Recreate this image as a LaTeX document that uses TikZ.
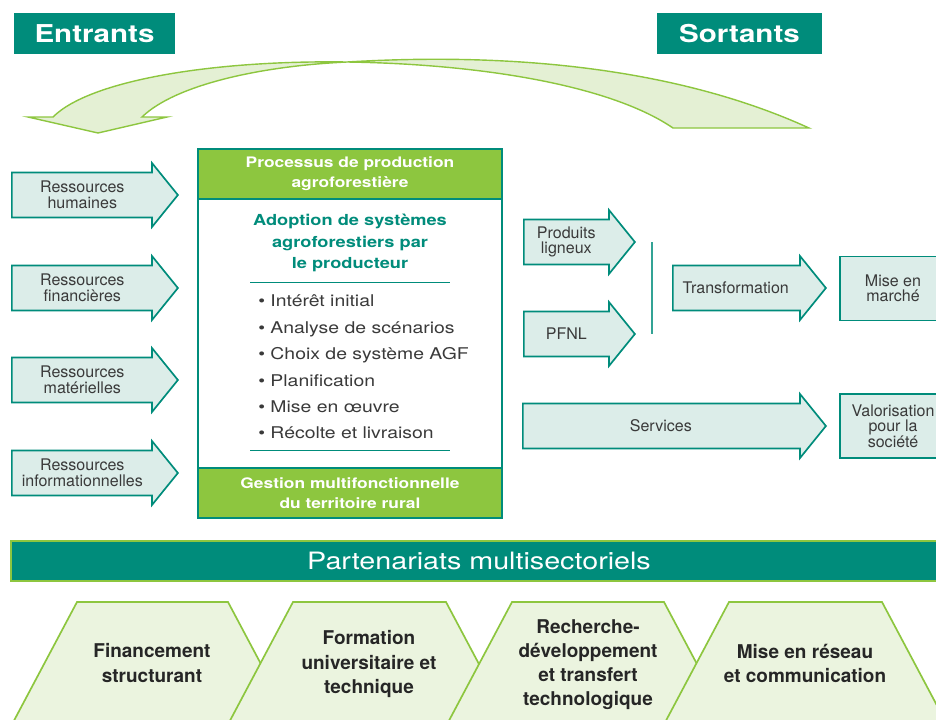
\documentclass[tikz,border=0pt]{standalone}
\usepackage{fontspec}
\setmainfont{TeX Gyre Heros}
\newfontfamily\widefont[FakeStretch=1.2]{TeX Gyre Heros}
\usetikzlibrary{positioning, shapes.arrows}

\definecolor{agfteal}{HTML}{008C7B}
\definecolor{agfgreen}{HTML}{8DC63F}
\definecolor{palegreen}{HTML}{E4F0D4}
\definecolor{trapgreen}{HTML}{EBF4DF}
\definecolor{paleteal}{HTML}{DCEDE9}
\definecolor{textgray}{HTML}{3A3A3A}

\begin{document}
\begin{tikzpicture}[
    x=0.025cm, y=-0.025cm,
    flow/.style={single arrow, draw=agfteal, fill=paleteal, line width=1.2pt,
        minimum width=1.55cm, inner sep=0.54cm, single arrow head extend=0.24cm,
        single arrow tip angle=102, anchor=tail},
    flowtext/.style={inner sep=0pt, align=center, text=textgray,
        font=\fontsize{11.4}{11}\selectfont},
    outbox/.style={rectangle, draw=agfteal, fill=paleteal, line width=1.2pt,
        minimum width=2.65cm, minimum height=1.6cm, inner sep=0pt, align=center,
        text=textgray, font=\fontsize{11.4}{11}\selectfont},
    tag/.style={rectangle, fill=agfteal, text=white, minimum height=1.025cm,
        font=\widefont\bfseries\fontsize{17.5}{20}\selectfont},
    band/.style={rectangle, draw=agfteal, fill=agfgreen, line width=1.2pt,
        minimum width=7.6cm, minimum height=1.25cm, align=center, text=white,
        font=\widefont\bfseries\fontsize{10.3}{14.2}\selectfont},
    item/.style={anchor=base west, inner sep=0pt, text=textgray,
        font=\widefont\fontsize{11.5}{14}\selectfont},
    partner/.style={draw=agfgreen, fill=trapgreen, line width=1.2pt},
    partext/.style={align=center, text=black!85,
        font=\bfseries\fontsize{13.5}{17.1}\selectfont}
]
\useasboundingbox (0,0) rectangle (936,719);
\clip (0,0) rectangle (936,719);

% titles and return arrow
\node[tag, minimum width=4.025cm] (entrants) at (94.5,33.5) {Entrants};
\node[tag, minimum width=4.125cm] (sortants) at (739.5,33.5) {Sortants};

\draw[draw=agfgreen, fill=palegreen, line width=1pt]
    (673,128) .. controls (610,85) and (480,64) .. (347,62)
    .. controls (214,60) and (90,80) .. (53,117)
    -- (28,117) -- (98,133) -- (167,117) -- (142,117)
    .. controls (175,85) and (260,66) .. (347,62)
    .. controls (480,54) and (660,60) .. (809,128) -- cycle;

% resources
\node[flow, minimum height=4.15cm] (humaines) at (11,195) {};
\node[flowtext, right=0pt of humaines.tail, minimum width=3.55cm] {Ressources\\humaines};
\node[flow, minimum height=4.15cm] (financieres) at (11,288) {};
\node[flowtext, right=0pt of financieres.tail, minimum width=3.55cm] {Ressources\\financières};
\node[flow, minimum height=4.15cm] (materielles) at (11,380) {};
\node[flowtext, right=0pt of materielles.tail, minimum width=3.55cm] {Ressources\\matérielles};
\node[flow, minimum height=4.15cm] (informationnelles) at (11,473) {};
\node[flowtext, right=0pt of informationnelles.tail, minimum width=3.55cm] {Ressources\\informationnelles};

% production process
\node[draw=agfteal, line width=1.2pt, fill=white, minimum width=7.6cm,
    minimum height=9.225cm] (procbox) at (350,333.5) {};
\node[band, anchor=north] (processus) at (procbox.north) {Processus de production\\agroforestière};
\node[band, anchor=south] (gestion) at (procbox.south) {Gestion multifonctionnelle\\du territoire rural};
\node[align=center, text=agfteal, font=\widefont\bfseries\fontsize{10.8}{15.3}\selectfont]
    (adoption) at (350,243) {Adoption de systèmes\\agroforestiers par\\le producteur};
\draw[agfteal, line width=0.6pt] (250,282) -- (450,282);
\draw[agfteal, line width=0.6pt] (250,450) -- (450,450);

\node[item] (interet) at (258,306) {• Intérêt initial};
\node[item] (analyse) at (258,333) {• Analyse de scénarios};
\node[item] (choix) at (258,359) {• Choix de système AGF};
\node[item] (planif) at (258,386) {• Planification};
\node[item] (oeuvre) at (258,412) {• Mise en œuvre};
\node[item] (recolte) at (258,438) {• Récolte et livraison};

% outputs
\node[flow, minimum height=2.775cm] (ligneux) at (523,242) {};
\node[flowtext, right=0pt of ligneux.tail, minimum width=2.15cm] {Produits\\ligneux};
\node[flow, minimum height=2.775cm] (pfnl) at (523,334) {};
\node[flowtext, right=0pt of pfnl.tail, minimum width=2.15cm] {PFNL};
\path (ligneux.tip) ++(16,0) coordinate (bartop);
\path (pfnl.tip) ++(16,0) coordinate (barbot);
\draw[agfteal!80, line width=0.8pt] (bartop) -- (barbot);
\node[flow, minimum height=3.825cm] (transfo) at (672,288) {};
\node[flowtext, right=0pt of transfo.tail, minimum width=3.175cm] {Transformation};
\node[flow, minimum height=7.575cm] (services) at (522,426) {};
\node[flowtext, right=0pt of services.tail, minimum width=6.925cm] {Services};
\node[outbox] (marche) at (893,288.5) {Mise en\\marché};
\node[outbox] (societe) at (893,426) {Valorisation\\pour la\\société};

% partnerships
\node[rectangle, fill=agfteal, draw=agfgreen, line width=1.5pt, minimum width=23.4cm,
    minimum height=1cm, text=white, font=\widefont\fontsize{17}{20}\selectfont]
    (partenariats) at (479,561) {Partenariats multisectoriels};

\draw[partner] (77,602) -- (228,602) -- (296,730) -- (9,730) -- cycle;
\node[partext] (financement) at (152,663) {Financement\\structurant};
\draw[partner] (293,602) -- (446,602) -- (514,730) -- (225,730) -- cycle;
\node[partext] (formation) at (369,664) {Formation\\universitaire et\\technique};
\draw[partner] (512,602) -- (664,602) -- (732,730) -- (444,730) -- cycle;
\node[partext] (recherche) at (588,665) {Recherche-\\développement\\et transfert\\technologique};
\draw[partner] (729,602) -- (882,602) -- (950,730) -- (661,730) -- cycle;
\node[partext] (reseau) at (805,663) {Mise en réseau\\et communication};

\end{tikzpicture}
\end{document}
